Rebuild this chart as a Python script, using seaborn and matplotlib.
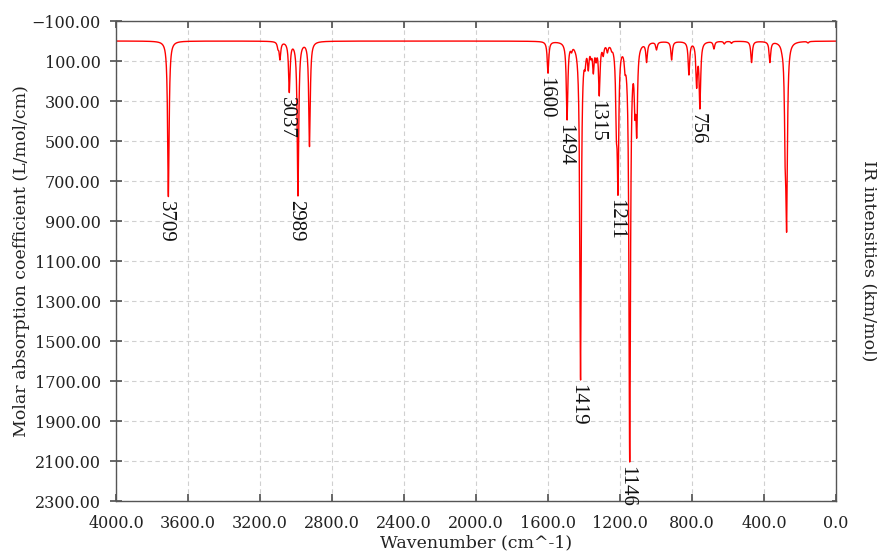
import numpy as np
import pandas as pd
import matplotlib
matplotlib.use("Agg")
import matplotlib.pyplot as plt
import seaborn as sns
from matplotlib.ticker import FuncFormatter, FixedLocator

peak_wavenumbers = [3709, 3100, 3089, 3037, 2989, 2925,
                    1600, 1494, 1469, 1450, 1419, 1394, 1376, 1361, 1348, 1333,
                    1315, 1293, 1270, 1246, 1220, 1211, 1172, 1163, 1146, 1117,
                    1107, 1052, 997, 913, 817, 774, 756, 678, 620, 580, 469, 367,
                    300, 282, 274, 155]
peak_heights = [778, 45, 95, 258, 775, 528,
                161, 395, 60, 55, 1695, 150, 150, 95, 165, 110,
                275, 78, 60, 55, 500, 770, 170, 210, 2105, 395,
                485, 108, 45, 95, 170, 237, 340, 40, 15, 12, 108, 108,
                70, 670, 953, 10]
labelled_peaks = [3709, 3037, 2989, 1600, 1494, 1419, 1315, 1211, 1146, 756]

x_ticks = [4000.0, 3600.0, 3200.0, 2800.0, 2400.0, 2000.0, 1600.0, 1200.0, 800.0, 400.0, 0.0]
y_ticks = [-100, 100, 300, 500, 700, 900, 1100, 1300, 1500, 1700, 1900, 2100, 2300]

x_label = "Wavenumber (cm^-1)"
y_label = "Molar absorption coefficient (L/mol/cm)"
y2_label = "IR intensities (km/mol)"

# ---- Lorentzian broadening; amplitudes chosen so the curve passes through the read heights ----
hwhm = 5.0
c = np.array(peak_wavenumbers, float)
t = np.array(peak_heights, float)
A = hwhm**2 / ((c[:, None] - c[None, :]) ** 2 + hwhm**2)
amp = np.clip(np.linalg.solve(A, t), 0, None)

wn = np.arange(0.0, 4000.01, 0.25)
eps = (amp[None, :] * hwhm**2 / ((wn[:, None] - c[None, :]) ** 2 + hwhm**2)).sum(axis=1)
df = pd.DataFrame({"wavenumber": wn, "epsilon": eps})

# ---- figure ----
sns.set_theme(style="white")
plt.rcParams["font.family"] = ["DejaVu Serif"]
fig = plt.figure(figsize=(8.78, 5.53), dpi=100)
ax = fig.add_axes([116 / 878, 1 - 501 / 553, 720 / 878, 480 / 553])

sns.lineplot(data=df, x="wavenumber", y="epsilon", ax=ax, color="#ff0000",
             linewidth=1.0, sort=False, estimator=None)

ax.set_xlim(4000, 0)
ax.set_ylim(2300, -100)
ax.xaxis.set_major_locator(FixedLocator(x_ticks))
ax.yaxis.set_major_locator(FixedLocator(y_ticks))
ax.xaxis.set_major_formatter(FuncFormatter(lambda v, p: f"{v:.1f}".replace("-", "\u2212")))
ax.yaxis.set_major_formatter(FuncFormatter(lambda v, p: f"{v:.2f}".replace("-", "\u2212")))

ax.grid(True, which="major", color="#d0d0d0", linestyle=(0, (4, 3)), linewidth=0.8)
for s in ax.spines.values():
    s.set_color("#555555")
    s.set_linewidth(1.0)
ax.tick_params(axis="x", direction="in", top=True, bottom=True, length=5,
               color="#555555", labelsize=11.5, labelcolor="#222222", pad=10)
ax.tick_params(axis="y", direction="inout", left=True, right=False, length=8,
               color="#555555", labelsize=11.5, labelcolor="#222222", pad=7)

ax.set_xlabel(x_label, fontsize=12.5, color="#222222", labelpad=2)
ax.set_ylabel(y_label, fontsize=12.5, color="#222222", labelpad=1)

ax2 = ax.twinx()
ax2.set_ylim(2300, -100)
ax2.yaxis.set_major_locator(FixedLocator(y_ticks))
ax2.tick_params(axis="y", direction="in", length=3, color="#555555", labelright=False)
ax2.set_ylabel(y2_label, rotation=-90, fontsize=12.5, color="#222222", labelpad=30)
for s in ax2.spines.values():
    s.set_visible(False)

# ---- peak labels ----
for p in labelled_peaks:
    mask = np.abs(wn - p) <= 2
    idx = np.where(mask)[0][np.argmax(eps[mask])]
    ax.annotate(f"{p}", xy=(wn[idx], eps[idx]), xytext=(-2, -3),
                textcoords="offset points", rotation=-90, ha="center", va="top",
                fontsize=15, family=["Liberation Serif"], color="#111111")

fig.savefig("out.png", dpi=100)
